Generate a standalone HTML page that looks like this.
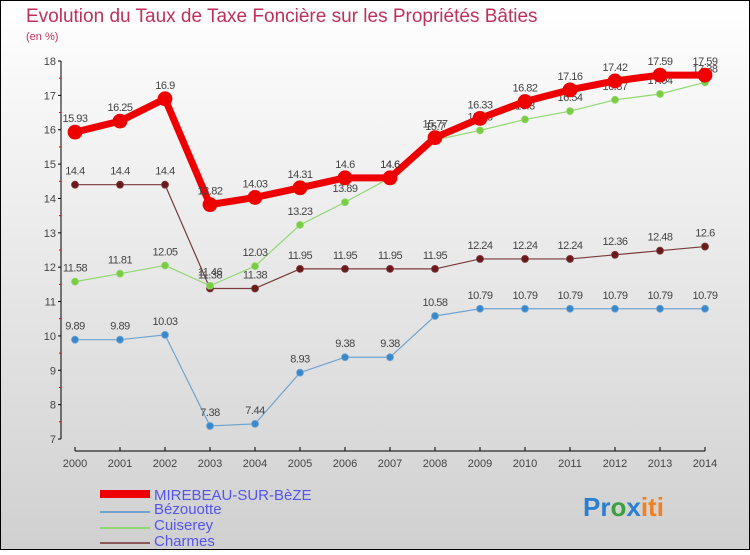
<!DOCTYPE html>
<html><head><meta charset="utf-8"><style>
body{margin:0;width:750px;height:550px;overflow:hidden;font-family:"Liberation Sans",sans-serif}
</style></head><body>
<svg id="c" width="750" height="550" xmlns="http://www.w3.org/2000/svg">
<defs><linearGradient id="bg" x1="0" y1="0" x2="0" y2="1"><stop offset="0" stop-color="#ffffff"/><stop offset="1" stop-color="#d0d0d0"/></linearGradient></defs>
<rect x="0.5" y="0.5" width="749" height="549" fill="url(#bg)" stroke="#000"/>
<text x="26" y="22" font-size="19" fill="#c0305a">Evolution du Taux de Taxe Foncière sur les Propriétés Bâties</text>
<text x="26" y="40" font-size="11" fill="#c0305a">(en %)</text>
<g id="axes"></g><g id="series"></g>
<g>
<rect x="100" y="490" width="50" height="8" fill="#e00"/>
<text x="154" y="500" font-size="15" fill="#5555ee">MIREBEAU-SUR-BèZE</text>
<line x1="100" y1="512" x2="150" y2="512" stroke="#6fa4d0" stroke-width="2"/>
<text x="154" y="514" font-size="15" fill="#5555ee">Bézouotte</text>
<line x1="100" y1="528" x2="150" y2="528" stroke="#8fd870" stroke-width="2"/>
<text x="154" y="530" font-size="15" fill="#5555ee">Cuiserey</text>
<line x1="100" y1="543" x2="150" y2="543" stroke="#8a5a5a" stroke-width="2"/>
<text x="154" y="546" font-size="15" fill="#5555ee">Charmes</text>
</g>
<g font-size="26" font-weight="bold">
<text x="583" y="516"><tspan fill="#2a7fd0">Pr</tspan><tspan fill="#3aa040">o</tspan><tspan fill="#2a7fd0">x</tspan><tspan fill="#f08020">iti</tspan></text>
</g>
</svg>
<script>
const years=[2000,2001,2002,2003,2004,2005,2006,2007,2008,2009,2010,2011,2012,2013,2014];
const yTicks=[7,8,9,10,11,12,13,14,15,16,17,18];
const mirebeau=[15.93,16.25,16.9,13.82,14.03,14.31,14.6,14.6,15.77,16.33,16.82,17.16,17.42,17.59,17.59];
const bezouotte=[9.89,9.89,10.03,7.38,7.44,8.93,9.38,9.38,10.58,10.79,10.79,10.79,10.79,10.79,10.79];
const cuiserey=[11.58,11.81,12.05,11.46,12.03,13.23,13.89,14.6,15.7,15.98,16.3,16.54,16.87,17.04,17.38];
const charmes=[14.4,14.4,14.4,11.38,11.38,11.95,11.95,11.95,11.95,12.24,12.24,12.24,12.36,12.48,12.6];
const NS="http://www.w3.org/2000/svg";
const xS=i=>75+i*45;
const yS=v=>439-(v-7)*(378/11);
function mk(t,a,p){const e=document.createElementNS(NS,t);for(const k in a)e.setAttribute(k,a[k]);p.appendChild(e);return e;}
const ax=document.getElementById('axes');
let yl=mk('line',{x1:61,y1:61,x2:61,y2:439,stroke:'#000'},ax);


yTicks.forEach(v=>{
 const l=mk('line',{x1:58,y1:yS(v),x2:61,y2:yS(v),stroke:'#000'},ax);
 
 
 if(v<18){const m=mk('line',{x1:59,y1:yS(v+0.5),x2:61,y2:yS(v+0.5),stroke:'#e00'},ax);
 
 }
 const t=mk('text',{x:56,y:yS(v)+4,'font-size':11,fill:'#444','text-anchor':'end'},ax);t.textContent=v;
 
 
});
let xl=mk('line',{x1:75,y1:451,x2:705,y2:451,stroke:'#000'},ax);


years.forEach((y,i)=>{
 const l=mk('line',{x1:xS(i),y1:447,x2:xS(i),y2:451,stroke:'#000'},ax);
 
 
 const t=mk('text',{x:xS(i),y:467,'font-size':11,fill:'#444','text-anchor':'middle'},ax);t.textContent=y;
 
 
});
const sg=document.getElementById('series');
function draw(name,vals,color,w,r,fillc){
 const g=mk('g',{},sg);
 
 
 const p=mk('polyline',{points:vals.map((v,i)=>xS(i)+','+yS(v)).join(' '),fill:'none',stroke:color,'stroke-width':w,'stroke-linejoin':'round'},g);
 
 
 vals.forEach((v,i)=>{
  const c=mk('circle',{cx:xS(i),cy:yS(v),r:r,fill:fillc,stroke:color,'stroke-width':0.8},g);
  
  
  const t=mk('text',{x:xS(i),y:yS(v)-10,'font-size':11,fill:'#444','text-anchor':'middle','letter-spacing':'-0.5'},g);
  t.textContent=v;
  
  
 });
}
draw('charmes',charmes,'#7a3a3a',1.2,3.5,'#6a1a1a');
draw('bezouotte',bezouotte,'#6fa4d0',1.2,3.5,'#3a88cc');
draw('cuiserey',cuiserey,'#8fd870',1.2,3.5,'#7acc40');
draw('mirebeau',mirebeau,'#e00',7,7,'#e00');
</script>
</body></html>
